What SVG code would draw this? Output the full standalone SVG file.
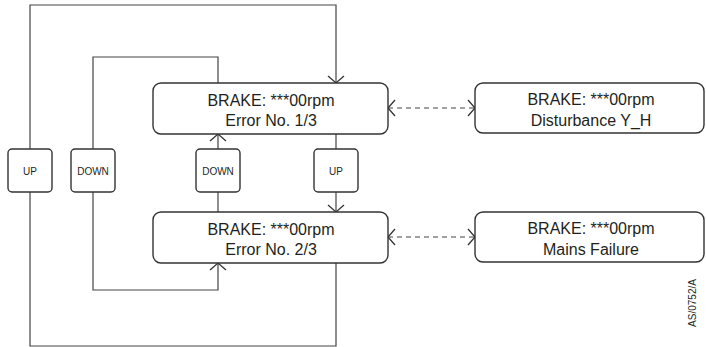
<svg xmlns="http://www.w3.org/2000/svg" width="706" height="347" viewBox="0 0 706 347">
<style>
.box{fill:#fff;stroke:#333;stroke-width:1.4}
.t{font-family:"Liberation Sans",Arial,sans-serif;font-size:16px;fill:#231f20;text-anchor:middle}
.s{font-family:"Liberation Sans",Arial,sans-serif;font-size:10px;fill:#231f20;text-anchor:middle}
.ln{fill:none;stroke:#444;stroke-width:1.2}
.ds{fill:none;stroke:#444;stroke-width:1.2;stroke-dasharray:5 4}
</style>
<defs>
<marker id="chev" viewBox="-10 -10 20 20" markerWidth="20" markerHeight="20" refX="0" refY="0" orient="auto-start-reverse" markerUnits="userSpaceOnUse">
<path d="M-7,-8 L0,0 L-7,8" fill="none" stroke="#333" stroke-width="1.3"/>
</marker>
</defs>
<rect width="706" height="347" fill="#fff"/>
<g id="connectors">
<path class="ln" d="M30,149 V5 H336 V83" marker-end="url(#chev)"/>
<path class="ln" d="M336,263 V346 H30 V192"/>
<path class="ln" d="M93,149 V57 H218 V83"/>
<path class="ln" d="M93,192 V290 H218 V263" marker-end="url(#chev)"/>
<path class="ln" d="M218,212 V192"/>
<path class="ln" d="M218,149 V134" marker-end="url(#chev)"/>
<path class="ln" d="M336,134 V149"/>
<path class="ln" d="M336,192 V212" marker-end="url(#chev)"/>
<path class="ds" d="M388,108 H475" marker-start="url(#chev)" marker-end="url(#chev)"/>
<path class="ds" d="M388,237 H475" marker-start="url(#chev)" marker-end="url(#chev)"/>
</g>
<g id="err1">
<rect class="box" x="153" y="83" width="235" height="51" rx="8"/>
<text class="t" x="271" y="106">BRAKE: ***00rpm</text>
<text class="t" x="271" y="126">Error No. 1/3</text>
</g>
<g id="err2">
<rect class="box" x="153" y="212" width="235" height="51" rx="8"/>
<text class="t" x="271" y="235">BRAKE: ***00rpm</text>
<text class="t" x="271" y="255">Error No. 2/3</text>
</g>
<g id="dist">
<rect class="box" x="475" y="83" width="229" height="50" rx="8"/>
<text class="t" x="591" y="105">BRAKE: ***00rpm</text>
<text class="t" x="591" y="126">Disturbance Y_H</text>
</g>
<g id="mains">
<rect class="box" x="475" y="212" width="229" height="50" rx="8"/>
<text class="t" x="591" y="234">BRAKE: ***00rpm</text>
<text class="t" x="591" y="255">Mains Failure</text>
</g>
<g id="up-left">
<rect class="box" x="8" y="149" width="44" height="43" rx="4"/>
<text class="s" x="30" y="175">UP</text>
</g>
<g id="down-left">
<rect class="box" x="71" y="149" width="44" height="43" rx="4"/>
<text class="s" x="93" y="175">DOWN</text>
</g>
<g id="down-mid">
<rect class="box" x="196" y="149" width="44" height="43" rx="4"/>
<text class="s" x="218" y="175">DOWN</text>
</g>
<g id="up-right">
<rect class="box" x="314" y="149" width="44" height="43" rx="4"/>
<text class="s" x="336" y="175">UP</text>
</g>
<text class="s" transform="translate(696,303) rotate(-90)">AS/0752/A</text>
</svg>
